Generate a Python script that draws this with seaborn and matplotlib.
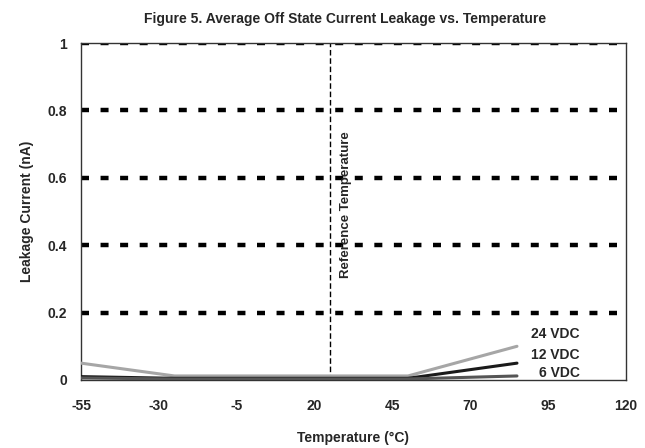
import matplotlib
matplotlib.use("Agg")
import matplotlib.pyplot as plt
import seaborn as sns
import pandas as pd

temps = [-55, -25, 25, 50, 85]
v24 = [0.05, 0.012, 0.012, 0.012, 0.10]
v12 = [0.01, 0.005, 0.005, 0.005, 0.05]
v6 = [0.006, 0.003, 0.003, 0.003, 0.012]
series_names = ["24 VDC", "12 VDC", "6 VDC"]
x_ticks = [-55, -30, -5, 20, 45, 70, 95, 120]
y_ticks = [0, 0.2, 0.4, 0.6, 0.8, 1]
ref_temp = 25

rows = []
for name, vals in zip(series_names, [v24, v12, v6]):
    for t, v in zip(temps, vals):
        rows.append({"Temperature": t, "Leakage": v, "Series": name})
df = pd.DataFrame(rows)

sns.set_style("white")
plt.rcParams["font.family"] = ["Liberation Sans", "DejaVu Sans"]
plt.rcParams["font.weight"] = "bold"

fig = plt.figure(figsize=(6.45, 4.48), dpi=100)
ax = fig.add_axes([0.1256, 0.1518, 0.8449, 0.7522])

for y in y_ticks[1:]:
    ax.axhline(y, color="black", lw=3.2, ls=(0, (1.8, 2.6)), zorder=1)

palette = {"24 VDC": "#a6a6a6", "12 VDC": "#1a1a1a", "6 VDC": "#555555"}
sns.lineplot(data=df, x="Temperature", y="Leakage", hue="Series",
             palette=palette, lw=2.2, legend=False, ax=ax, zorder=3)

ax.axvline(ref_temp, color="black", lw=1, ls=(0, (4, 2)), zorder=2)
ax.text(ref_temp + 5, 0.519, "Reference Temperature", rotation=90,
        ha="center", va="center", fontsize=9.5, fontweight="bold")

label_y = [0.136, 0.074, 0.021]
for name, ly in zip(series_names, label_y):
    ax.text(105.2, ly, name, ha="right", va="center", fontsize=10, fontweight="bold")

ax.set_xlim(-55, 120)
ax.set_ylim(0, 1)
ax.set_xticks(x_ticks)
ax.set_xticklabels([str(t) for t in x_ticks], fontsize=10, fontweight="bold")
ax.set_yticks(y_ticks)
ax.set_yticklabels(["0", "0.2", "0.4", "0.6", "0.8", "1"], fontsize=10, fontweight="bold")
ax.tick_params(axis="x", direction="inout", length=7, width=1, color="#333333", pad=10)
ax.tick_params(axis="y", direction="out", length=4, width=1, color="#333333", pad=6)
for s in ax.spines.values():
    s.set_color("#333333")
    s.set_linewidth(1)
    s.set_visible(True)

ax.set_xlabel("Temperature (°C)", fontsize=10, fontweight="bold", labelpad=13)
ax.set_ylabel("Leakage Current (nA)", fontsize=10, fontweight="bold", labelpad=10)
fig.suptitle("Figure 5. Average Off State Current Leakage vs. Temperature",
             x=0.535, y=0.973, fontsize=10, fontweight="bold")

fig.savefig("out.png", dpi=100)
